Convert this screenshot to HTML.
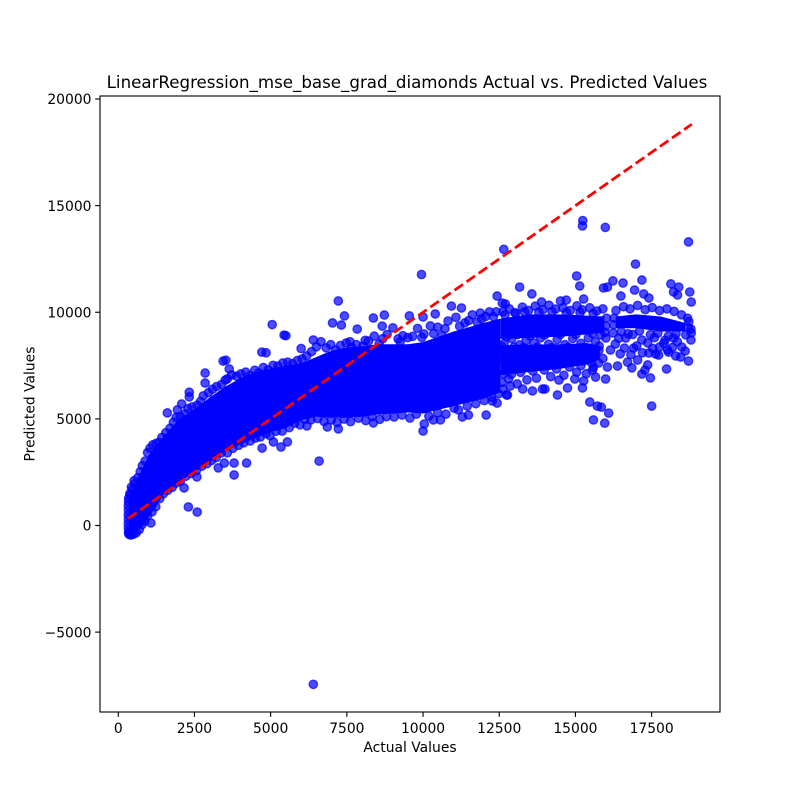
<!DOCTYPE html>
<html lang="en">
<head>
<meta charset="utf-8">
<title>LinearRegression_mse_base_grad_diamonds Actual vs. Predicted Values</title>
<style>
html,body{margin:0;padding:0;background:#fff;}
svg{display:block;font-family:"DejaVu Sans","Liberation Sans",sans-serif;}
</style>
</head>
<body>
<svg id="chart" xmlns="http://www.w3.org/2000/svg" width="800" height="800" viewBox="0 0 800 800">
  <rect x="0" y="0" width="800" height="800" fill="#fff"/>
  <text x="407" y="88" font-size="16.67" text-anchor="middle" fill="#000">LinearRegression_mse_base_grad_diamonds Actual vs. Predicted Values</text>
  <g id="bands"></g>
  <g id="points"></g>
  <path id="identity" fill="none" stroke="#ff0000" stroke-width="2.78" stroke-dasharray="10.3 4.45"/>
  <rect x="100" y="96" width="620" height="616" fill="none" stroke="#000" stroke-width="1.11"/>
  <g id="xticks"></g>
  <g id="yticks"></g>
  <text x="410" y="752" font-size="13.89" text-anchor="middle" fill="#000">Actual Values</text>
  <text x="0" y="0" transform="translate(34.5 404) rotate(-90)" font-size="13.89" text-anchor="middle" fill="#000">Predicted Values</text>
</svg>
<script>
const xTickValues = [0, 2500, 5000, 7500, 10000, 12500, 15000, 17500];
const xTickLabels = ["0", "2500", "5000", "7500", "10000", "12500", "15000", "17500"];
const yTickValues = [-5000, 0, 5000, 10000, 15000, 20000];
const yTickLabels = ["\u22125000", "0", "5000", "10000", "15000", "20000"];
const identityRange = [326, 18818];

const coreActual = [350,450,600,800,1000,1250,1500,1750,2000,2500,3000,3500,4000,4500,5000,5500,6000,6500,7000,7500,8000,8500,9000,9500,10000,11000,12000,12535];
const coreLower = [-350,-380,-280,-20,400,900,1500,1800,2050,2500,2980,3500,3800,4100,4380,4570,4950,5100,5050,5050,5100,5200,5250,5300,5250,5600,5950,6250];
const coreUpper = [1250,1650,2100,2700,3300,3750,4200,4600,5000,5450,6000,6500,6900,7200,7350,7500,7600,7900,8200,8350,8400,8500,8500,8500,8600,9100,9500,9700];

const upperLaneActual = [12535,13500,14500,15300,15950];
const upperLaneLower = [8750,8800,8850,8950,9050];
const upperLaneUpper = [9700,9900,9900,9850,9800];

const lowerLaneActual = [12535,13500,14500,15400,15800];
const lowerLaneLower = [7050,7200,7350,7550,7800];
const lowerLaneUpper = [8450,8480,8500,8550,8400];

const farLaneActual = [16320,17000,17800,18600];
const farLaneLower = [9250,9250,9100,9100];
const farLaneUpper = [9800,9900,9800,9500];

const leftEdgeSamples = [
[335,-300],[330,-110],[328,90],[330,300],[328,500],[332,720],[330,930],[335,1120],[345,-380],[380,1500],[430,1800],[520,2100]
];

const upperEdgeSamples = [
[340,1280],[395,1420],[470,1700],[540,1960],[640,2240],[720,2520],[790,2800],[880,3020],[960,3420],[1040,3620],
[1130,3780],[1240,3850],[1340,3900],[1430,4130],[1560,4350],[1700,4560],[1810,4840],[1900,5070],[2030,5120],[2190,5240],
[2290,5480],[2420,5560],[2590,5640],[2700,5820],[2790,6080],[2960,6230],[3090,6390],[3230,6520],[3390,6610],[3580,6880],
[3720,7060],[3880,7000],[4020,7110],[4180,7190],[4330,7030],[4480,7280],[4610,7150],[4760,7410],[4920,7300],[5080,7510],
[5240,7480],[5400,7620],[5560,7660],[5720,7590],[5880,7740],[6030,7810],[6180,7950],[6340,8150],[6500,8380],[6650,8620],
[6820,8330],[6970,8480],[7130,8230],[7290,8440],[7480,8560],[7660,8350],[7810,8480],[8030,8420],[8210,8650],[8400,8880],
[8560,8520],[8820,8960],[9010,9270],[9180,8750],[9340,8900],[9660,8870],[9820,9240],[10030,8980],[10240,9360],[10480,9300],
[10620,8910],[10820,9590],[11080,9760],[11370,9500],[11620,9880],[11920,9690],[12180,10020],[12310,9790],
[7600,8620],[8100,8680],[8680,8760],[9250,8620],[9500,8810],[9960,8820],[10350,9000],[10720,9230],[11200,9350],[11500,9610],
[11780,9530],[12050,9800],[12400,10020]
];

const lowerEdgeSamples = [
[360,-420],[420,-450],[500,-410],[590,-340],[690,-190],[780,40],[870,210],[960,450],[1110,640],[1230,880],
[1360,1260],[1480,1490],[1620,1650],[1770,1790],[1900,1990],[2040,2080],[2220,2310],[2390,2440],[2560,2570],[2740,2780],
[2910,2900],[3060,3050],[3210,3180],[3380,3410],[3580,3410],[3760,3620],[3950,3760],[4120,3880],[4330,3960],[4500,4100],
[4660,4150],[4850,4310],[4980,4210],[5180,4420],[5380,4430],[5610,4590],[5790,4800],[5960,4720],[6120,4980],[6320,4950],
[6540,5020],[6750,4880],[6990,4950],[7180,4830],[7410,4990],[7620,4870],[7880,5030],[8120,4920],[8330,5110],[8580,4980],
[8800,5100],[9050,5090],[9310,5180],[9570,5040],[9780,5220],[10190,5130],[10480,5290],[10750,5220],[11020,5500],[11450,5600],
[11730,5710],[12010,5860],[12250,6020],[12480,6180],[12620,6390],[12860,6540]
];

const rightBodySamples = [
[12620,10020],[12830,10160],[13040,9950],[13260,10240],[13460,10080],[13680,10290],[13930,10120],[14130,10330],[14350,10150],[14590,10210],
[14830,10080],[15050,10300],[15220,10120],[15470,10210],[15700,10060],[15900,10160],[16330,10080],[16580,10260],[16790,10160],[17040,10320],
[17290,10120],[17520,10220],[17760,10080],[18000,10160],[18240,10040],[18480,9880],[18680,9720],[18790,9210],
[12660,8540],[12910,8760],[13160,8470],[13380,8680],[13640,8560],[13860,8800],[14120,8500],[14400,8720],[14660,8480],[14910,8770],
[15180,8540],[15420,8790],[15660,8620],[15830,8940],
[12580,6710],[12810,6880],[13090,6640],[13410,6830],[13720,6910],[14190,6980],[14460,6820],[14620,7040],[15040,7190],[15360,7120],[15760,7620]
];

const laneGapSamples = [
[12570,8410],[12740,8850],[12980,8360],[13090,8950],[13290,8340],[13510,8890],[13760,8370],[13990,8930],[14230,8340],[14510,8960],
[14760,8360],[15010,8950],[15290,8350],[15560,9000],[15780,8420],[15960,9060],[12690,9880],[13010,9980],[13330,10020],[13800,10010],
[14230,10030],[14700,10000],[15150,9990],[15580,9950],[16000,9350],[16020,9720],[16260,9420],[16270,9720],[12640,7120],[12900,7090],
[13200,7180],[13600,7240],[13980,7290],[14380,7340],[14800,7430],[15180,7500],[15520,7640],[15640,7980],[15770,8210],[15900,7830],
[15480,8320],[15590,7420],[12610,8210],[12600,7760]
];

const farBodySamples = [
[16310,8510],[16150,8230],[16910,8320],[17010,8420],[16610,8320],[17410,8090],[17730,7990],[18060,8130],[16000,8790],[16650,8790],
[17370,8560],[18220,8790],[18800,9030],[18490,8370],[18790,8700],[18450,7900],[18290,7950],[18020,8230],[17760,8370],[17630,8040],
[17370,7530],[17040,7760],[16710,7660],[16380,7480],[16420,8780],[16880,8960],[17180,8700],[17590,8810],[17940,8690],[18340,8620],
[16230,9030],[16730,8990],[17460,8950],[18050,8890],[18620,8940],[16500,9090],[17100,9120],[17700,9020],[18300,8990],[18700,9280],
[18720,9560],[16470,8050],[16820,8010],[17200,8100],[17540,8300],[17900,8540],[18180,8350],[18600,8180]
];

const outlierSamples = [
[6400,-7450],[5440,8930],[4710,8130],[3440,7710],[3530,7750],[3640,7340],[2850,7150],[2330,6250],[2330,6030],[1610,5280],
[1940,5420],[2080,5700],[2850,6680],[3510,6820],[2300,870],[2590,630],[2160,1760],[1070,120],[3800,2370],[3800,2930],
[4210,2930],[3280,2700],[3480,2930],[2580,2280],[6590,3020],[4720,3630],[5340,3680],[5090,3920],[5550,3920],[7220,10530],
[7420,9830],[7030,9500],[7320,9400],[7840,9210],[8370,9730],[8730,9870],[8660,9350],[9550,9830],[10400,9920],[10930,10290],
[11260,10200],[10000,9780],[12430,10760],[12600,10430],[12700,10390],[11880,9960],[10000,4430],[10040,4760],[7220,4530],[6860,4620],
[8370,4810],[6190,4670],[12070,5180],[11490,5180],[11290,5090],[10570,4950],[10340,4950],[12770,6120],[12430,5740],[12270,5840],
[11160,5420],[16970,12260],[18710,13300],[15040,11700],[15140,11230],[13170,11180],[13570,10860],[17180,11510],[16230,11470],[16560,11370],
[15920,11140],[16050,11180],[16940,11040],[17240,10860],[17410,10670],[16490,10760],[18130,11330],[18390,11180],[18750,10950],[18220,10950],
[18350,10810],[18800,10480],[15270,10620],[14510,10530],[14700,10570],[13890,10480],[17500,5600],[15470,5790],[15720,5600],[15850,5550],
[16090,5270],[15590,4950],[15960,4800],[14410,6120],[14740,6450],[15230,6450],[15270,6780],[14980,6870],[12740,6120],[13590,6310],
[13270,6400],[13920,6400],[14000,6400],[17460,6920],[17990,7340],[17180,7100],[17280,7290],[16850,7390],[18710,7710],[15660,6960],
[15990,6870],[16050,7430],[15560,7290],[15240,14300],[15230,14050],[15980,13980],[12650,12950],[9950,11770],[5050,9420],[5500,8900],
[6400,8700],[6000,8300],[4850,8100]
];

const xDomain = [-599, 19743];
const yDomain = [-8746, 20141];
const xRange = [100, 720];
const yRange = [712, 96];

function xScale(v) {
  return xRange[0] + (v - xDomain[0]) / (xDomain[1] - xDomain[0]) * (xRange[1] - xRange[0]);
}
function yScale(v) {
  return yRange[0] + (v - yDomain[0]) / (yDomain[1] - yDomain[0]) * (yRange[1] - yRange[0]);
}
const NS = "http://www.w3.org/2000/svg";

const bandsGroup = document.getElementById("bands");
function drawBand(actual, lower, upper) {
  const top = actual.map(function (v, i) { return xScale(v).toFixed(2) + "," + yScale(upper[i]).toFixed(2); });
  const bottom = actual.map(function (v, i) { return xScale(v).toFixed(2) + "," + yScale(lower[i]).toFixed(2); }).reverse();
  const poly = document.createElementNS(NS, "polygon");
  
  
  poly.setAttribute("points", top.concat(bottom).join(" "));
  poly.setAttribute("fill", "#0000ff");
  bandsGroup.appendChild(poly);
}
drawBand(coreActual, coreLower, coreUpper);
drawBand(upperLaneActual, upperLaneLower, upperLaneUpper);
drawBand(lowerLaneActual, lowerLaneLower, lowerLaneUpper);
drawBand(farLaneActual, farLaneLower, farLaneUpper);

const pointsGroup = document.getElementById("points");
function drawSamples(samples) {
  samples.forEach(function (s) {
    const c = document.createElementNS(NS, "circle");
    
    
    c.setAttribute("cx", xScale(s[0]).toFixed(2));
    c.setAttribute("cy", yScale(s[1]).toFixed(2));
    c.setAttribute("r", "4.17");
    c.setAttribute("fill", "#0000ff");
    c.setAttribute("fill-opacity", "0.7");
    c.setAttribute("stroke", "#0000ff");
    c.setAttribute("stroke-opacity", "0.7");
    c.setAttribute("stroke-width", "1.39");
    pointsGroup.appendChild(c);
  });
}
drawSamples(leftEdgeSamples);
drawSamples(upperEdgeSamples);
drawSamples(lowerEdgeSamples);
drawSamples(rightBodySamples);
drawSamples(laneGapSamples);
drawSamples(farBodySamples);
drawSamples(outlierSamples);

document.getElementById("identity").setAttribute("d",
  "M" + xScale(identityRange[0]) + " " + yScale(identityRange[0]) +
  "L" + xScale(identityRange[1]) + " " + yScale(identityRange[1]));

const xTicksGroup = document.getElementById("xticks");
xTickValues.forEach(function (v, i) {
  const x = xScale(v);
  const tick = document.createElementNS(NS, "line");
  
  
  tick.setAttribute("x1", x);
  tick.setAttribute("x2", x);
  tick.setAttribute("y1", 712);
  tick.setAttribute("y2", 716.86);
  tick.setAttribute("stroke", "#000");
  tick.setAttribute("stroke-width", "1.11");
  xTicksGroup.appendChild(tick);
  const label = document.createElementNS(NS, "text");
  
  
  label.setAttribute("x", x);
  label.setAttribute("y", 733);
  label.setAttribute("font-size", "13.89");
  label.setAttribute("text-anchor", "middle");
  label.textContent = xTickLabels[i];
  xTicksGroup.appendChild(label);
});

const yTicksGroup = document.getElementById("yticks");
yTickValues.forEach(function (v, i) {
  const y = yScale(v);
  const tick = document.createElementNS(NS, "line");
  
  
  tick.setAttribute("x1", 95.14);
  tick.setAttribute("x2", 100);
  tick.setAttribute("y1", y);
  tick.setAttribute("y2", y);
  tick.setAttribute("stroke", "#000");
  tick.setAttribute("stroke-width", "1.11");
  yTicksGroup.appendChild(tick);
  const label = document.createElementNS(NS, "text");
  
  
  label.setAttribute("x", 91.5);
  label.setAttribute("y", y + 5.2);
  label.setAttribute("font-size", "13.89");
  label.setAttribute("text-anchor", "end");
  label.textContent = yTickLabels[i];
  yTicksGroup.appendChild(label);
});
</script>
</body>
</html>
